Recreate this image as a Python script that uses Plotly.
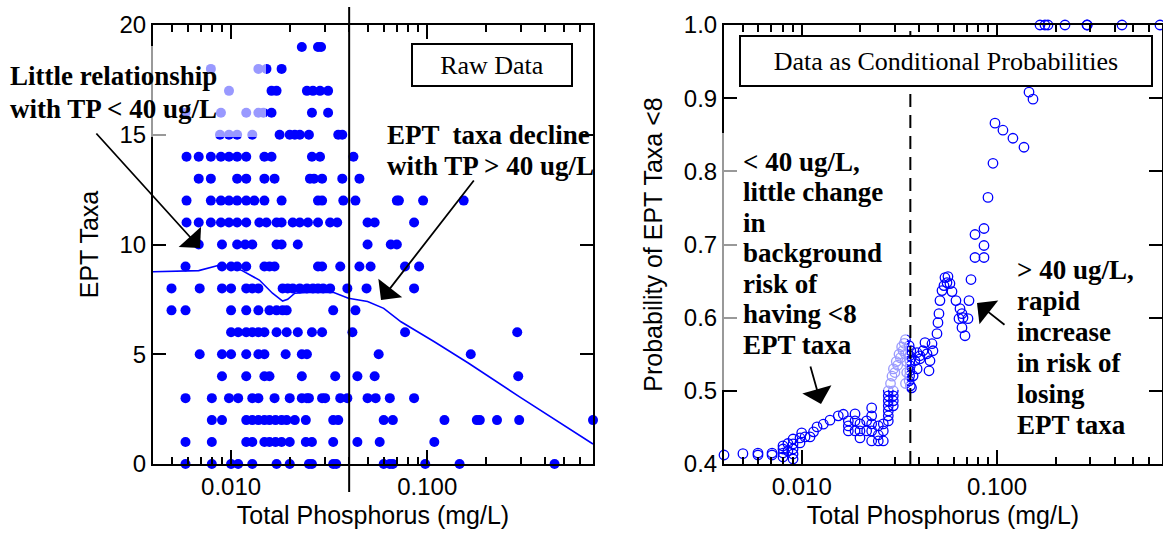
import math
import plotly.graph_objects as go

W, H = 1163, 535

# ---------------- Left panel: raw data (EPT taxa count vs TP, mg/L) ----------------
tp_ept19 = [0.02295, 0.02775, 0.02876]
tp_ept18 = [0.00789, 0.01378, 0.01515, 0.0181]
tp_ept17 = [0.00976, 0.01608, 0.01706, 0.02436, 0.02615, 0.02842, 0.03124]
tp_ept16 = [0.00586, 0.00888, 0.01195, 0.01378, 0.01462, 0.01608, 0.02584, 0.03124]
tp_ept15 = [0.00878, 0.00976, 0.01074, 0.01283, 0.01768, 0.01991, 0.02113, 0.02241,
            0.02494, 0.03519, 0.0369]
tp_ept14 = [0.00392, 0.00593, 0.00684, 0.00789, 0.00888, 0.00976, 0.01074, 0.01195,
            0.01479, 0.01608, 0.02584, 0.02842, 0.04206]
tp_ept13 = [0.00684, 0.00789, 0.01074, 0.01195, 0.01479, 0.01666, 0.02524, 0.02647,
            0.02911, 0.0369, 0.04513]
tp_ept12 = [0.00593, 0.00789, 0.00888, 0.00976, 0.01074, 0.01195, 0.01314, 0.01479,
            0.0181, 0.02775, 0.02911, 0.03734, 0.04306, 0.0700, 0.07171, 0.0953, 0.1534]
tp_ept11 = [0.00593, 0.00684, 0.00789, 0.00888, 0.00976, 0.01074, 0.01195, 0.01394,
            0.01515, 0.01706, 0.0181, 0.02063, 0.02241, 0.02465, 0.02775, 0.03199,
            0.03476, 0.04965, 0.05395, 0.0857]
tp_ept10 = [0.00684, 0.00899, 0.01074, 0.0118, 0.01283, 0.01706, 0.0181, 0.02189,
            0.04965, 0.06521, 0.0700]
tp_ept9 = [0.00392, 0.00586, 0.00899, 0.0100, 0.01074, 0.01195, 0.01479, 0.0157,
           0.01666, 0.02775, 0.02911, 0.03603, 0.04513, 0.05144, 0.07703, 0.0909]
tp_ept8 = [0.00497, 0.00692, 0.00899, 0.0100, 0.01195, 0.01283, 0.01378, 0.01832,
           0.01944, 0.02063, 0.02241, 0.02436, 0.02615, 0.02775, 0.02946, 0.03199,
           0.03916, 0.04906, 0.0857]
tp_ept7 = [0.00497, 0.00586, 0.0100, 0.01195, 0.01378, 0.0157, 0.01706, 0.01832,
           0.01921, 0.03316, 0.04306]
tp_ept6 = [0.0100, 0.01087, 0.01195, 0.01283, 0.01378, 0.01479, 0.01706, 0.01921,
           0.02189, 0.02584, 0.02911, 0.04156, 0.0771, 0.2876]
tp_ept5 = [0.00692, 0.00899, 0.0100, 0.01195, 0.01378, 0.01479, 0.01898, 0.02295,
           0.02436, 0.05656, 0.1667]
tp_ept4 = [0.00392, 0.00899, 0.01195, 0.01479, 0.0157, 0.02295, 0.03396, 0.04406,
           0.05395, 0.291]
tp_ept3 = [0.00586, 0.00798, 0.00976, 0.01087, 0.01283, 0.01378, 0.01666, 0.01991,
           0.02295, 0.02436, 0.02494, 0.02911, 0.03016, 0.03603, 0.03916, 0.04965,
           0.05459, 0.06446, 0.0857]
tp_ept2 = [0.00798, 0.00899, 0.01195, 0.01283, 0.01378, 0.01479, 0.0157, 0.01685,
           0.0181, 0.01921, 0.02113, 0.02405, 0.03316, 0.03519, 0.0600, 0.0668,
           0.1224, 0.179, 0.1854, 0.2269, 0.2944, 0.700]
tp_ept1 = [0.00586, 0.00798, 0.01195, 0.01283, 0.01479, 0.0157, 0.01685, 0.0181,
           0.01991, 0.02405, 0.02584, 0.03316, 0.04406, 0.05724, 0.1087]
tp_ept0 = [0.00586, 0.00798, 0.0100, 0.01087, 0.01283, 0.01706, 0.01991, 0.02494,
           0.02584, 0.03316, 0.03436, 0.0600, 0.06446, 0.0668, 0.0977, 0.1462, 0.4458]

ept_rows = [tp_ept0, tp_ept1, tp_ept2, tp_ept3, tp_ept4, tp_ept5, tp_ept6, tp_ept7,
            tp_ept8, tp_ept9, tp_ept10, tp_ept11, tp_ept12, tp_ept13, tp_ept14,
            tp_ept15, tp_ept16, tp_ept17, tp_ept18, tp_ept19]

# smoothed trend line
smooth_tp = [0.00392, 0.00684, 0.00867, 0.0100, 0.01139, 0.01394, 0.01626, 0.01832,
             0.01944, 0.02113, 0.02436, 0.03316, 0.03963, 0.04965, 0.0600, 0.0735,
             0.1087, 0.1626, 0.2944, 0.700]
smooth_ept = [8.76, 8.81, 9.05, 9.0, 8.81, 8.38, 7.78, 7.42, 7.50, 7.78, 7.82, 7.82,
              7.55, 7.40, 7.09, 6.48, 5.57, 4.59, 3.07, 0.91]

# ---------------- Right panel: conditional probabilities ----------------
cp_tp = [0.00400, 0.00500, 0.00597, 0.00597, 0.00705, 0.00705,
         0.00802, 0.00802, 0.00802, 0.00802, 0.0085, 0.0085,
         0.00903, 0.00903, 0.00903, 0.00903, 0.00903,
         0.0098, 0.0098, 0.0100, 0.0104, 0.01103, 0.0115, 0.01198,
         0.0129, 0.01396, 0.01539, 0.01633,
         0.01733, 0.01733, 0.01733, 0.01875, 0.01875, 0.01875,
         0.01988, 0.01988, 0.01988, 0.02151, 0.02151,
         0.02282, 0.02282, 0.02282, 0.02282, 0.02282,
         0.02467, 0.02467, 0.02467, 0.02617, 0.02617, 0.02617,
         0.02776, 0.02776, 0.02776, 0.02776, 0.02776, 0.02776, 0.02776,
         0.02944, 0.02944, 0.02944, 0.02944,
         0.0285, 0.0290, 0.0295, 0.0300, 0.0305, 0.0310, 0.0315, 0.0320,
         0.0325, 0.0330, 0.0335, 0.0340, 0.0340, 0.0345, 0.0345, 0.0340,
         0.0355, 0.0357, 0.0358, 0.0360, 0.0358, 0.0357, 0.0362, 0.0355,
         0.0360, 0.0365, 0.0372, 0.0380, 0.0390, 0.0403,
         0.03894, 0.04034, 0.04180, 0.04279, 0.04382, 0.04539, 0.04648,
         0.04702, 0.04486, 0.04929, 0.04987, 0.05046, 0.05105, 0.05229,
         0.05353, 0.05416, 0.05610, 0.05546, 0.05744, 0.05884, 0.06166,
         0.06465, 0.06619, 0.06390, 0.06699, 0.06619, 0.07104, 0.06859,
         0.07190, 0.07361, 0.07718, 0.07718, 0.08580, 0.08580, 0.08580,
         0.08995, 0.09540, 0.09768, 0.1073, 0.1207, 0.1375, 0.1459, 0.1529,
         0.1661, 0.1761, 0.1824, 0.2230, 0.2890, 0.2900, 0.4367, 0.6834]
cp_prob = [0.4123, 0.4141, 0.4123, 0.4150, 0.4123, 0.4150,
           0.4096, 0.4150, 0.4205, 0.4247, 0.418, 0.428,
           0.4068, 0.4137, 0.4205, 0.4274, 0.4342,
           0.4288, 0.4356, 0.4425, 0.4370, 0.4370, 0.4440, 0.4507,
           0.4544, 0.4599, 0.4658, 0.4680,
           0.4589, 0.4521, 0.4452, 0.4685, 0.4589, 0.4452,
           0.4548, 0.4452, 0.4356, 0.4589, 0.4452,
           0.4767, 0.4658, 0.4548, 0.4452, 0.4315,
           0.4521, 0.4397, 0.4315, 0.4548, 0.4452, 0.4315,
           0.5000, 0.4932, 0.4863, 0.4795, 0.4726, 0.4658, 0.4589,
           0.5000, 0.4932, 0.4863, 0.4795,
           0.510, 0.520, 0.530, 0.525, 0.540, 0.535, 0.550, 0.545,
           0.560, 0.555, 0.565, 0.570, 0.550, 0.540, 0.525, 0.510,
           0.5137, 0.5205, 0.5274, 0.5342, 0.5411, 0.5479, 0.5548, 0.5616,
           0.5068, 0.5041, 0.5205, 0.5411, 0.5300, 0.5479,
           0.5521, 0.5438, 0.5548, 0.5658, 0.5507, 0.5411, 0.5644,
           0.5548, 0.5274, 0.5781, 0.5932, 0.6055, 0.6233, 0.6370,
           0.6438, 0.6548, 0.6562, 0.6479, 0.6466, 0.6356, 0.6233,
           0.6123, 0.6055, 0.5986, 0.6000, 0.5863, 0.5986, 0.5753,
           0.6233, 0.6521, 0.6822, 0.7137, 0.6822, 0.6986, 0.7219,
           0.7644, 0.8110, 0.8658, 0.8562, 0.8452, 0.8329, 0.9082, 0.8986,
           1.0, 1.0, 1.0, 1.0, 1.0, 1.0, 1.0, 1.0]

TP_THRESHOLD_RAW = 0.04
TP_THRESHOLD_CP = 0.036

tick_vals = [0.01, 0.1]
tick_text = ["0.010", "0.100"]
minor_vals = [0.004, 0.005, 0.006, 0.007, 0.008, 0.009,
              0.02, 0.03, 0.04, 0.05, 0.06, 0.07, 0.08, 0.09,
              0.2, 0.3, 0.4, 0.5, 0.6, 0.7]

BLUE = "#0000FF"
SANS = "Arial, Liberation Sans, sans-serif"
SERIF = "Times New Roman, Liberation Serif, serif"


def pxx(x):
    return x / W


def pxy(y):
    return 1 - y / H


raw_x, raw_y = [], []
for count, row in enumerate(ept_rows):
    raw_x += row
    raw_y += [count] * len(row)

fig = go.Figure()
fig.add_trace(go.Scatter(x=raw_x, y=raw_y, mode="markers", xaxis="x", yaxis="y",
                         marker=dict(symbol="circle", size=10, color=BLUE),
                         cliponaxis=False, showlegend=False))
fig.add_trace(go.Scatter(x=smooth_tp, y=smooth_ept, mode="lines", xaxis="x", yaxis="y",
                         line=dict(color=BLUE, width=1.6), showlegend=False))
fig.add_trace(go.Scatter(x=cp_tp, y=cp_prob, mode="markers", xaxis="x2", yaxis="y2",
                         marker=dict(symbol="circle-open", size=9.5, color=BLUE,
                                     line=dict(width=1.3, color=BLUE)),
                         cliponaxis=False, showlegend=False))

ydom = [pxy(464), pxy(25)]
common_x = dict(type="log", range=[math.log10(0.004), math.log10(0.7)],
                tickvals=tick_vals, ticktext=tick_text, ticks="inside", ticklen=14,
                tickwidth=2, tickcolor="black", automargin=False,
                minor=dict(tickvals=minor_vals, ticks="inside", ticklen=7,
                           tickwidth=1.5, tickcolor="black"),
                showline=True, linewidth=2, linecolor="black", mirror="allticks",
                showgrid=False, zeroline=False,
                tickfont=dict(family=SANS, size=24, color="black"))
common_y = dict(ticks="inside", ticklen=13, tickwidth=2, tickcolor="black",
                showline=True, linewidth=2, linecolor="black", mirror="allticks",
                showgrid=False, zeroline=False, automargin=False,
                tickfont=dict(family=SANS, size=24, color="black"))

fig.update_layout(
    width=W, height=H, margin=dict(l=0, r=0, t=0, b=0, autoexpand=False),
    paper_bgcolor="white", plot_bgcolor="white", showlegend=False,
    xaxis=dict(common_x, domain=[pxx(153), pxx(593)], anchor="y",
               title=dict(text="Total Phosphorus (mg/L)", standoff=8,
                          font=dict(family=SANS, size=25, color="black"))),
    yaxis=dict(common_y, domain=ydom, anchor="x", range=[0, 20], tickvals=[0, 5, 10, 15, 20],
               title=dict(text="EPT Taxa", standoff=14,
                          font=dict(family=SANS, size=25, color="black"))),
    xaxis2=dict(common_x, domain=[pxx(724), pxx(1162)], anchor="y2",
                title=dict(text="Total Phosphorus (mg/L)", standoff=8,
                           font=dict(family=SANS, size=25, color="black"))),
    yaxis2=dict(common_y, domain=ydom, anchor="x2", range=[0.4, 1.0],
                tickvals=[0.4, 0.5, 0.6, 0.7, 0.8, 0.9, 1.0], tickformat=".1f",
                title=dict(text="Probability of EPT Taxa <8", standoff=14,
                           font=dict(family=SANS, size=25, color="black"))),
)

shapes = [
    dict(type="line", xref="x", yref="paper",
         x0=TP_THRESHOLD_RAW, x1=TP_THRESHOLD_RAW,
         y0=pxy(492), y1=pxy(7), line=dict(color="black", width=2)),
    dict(type="line", xref="x2", yref="y2",
         x0=TP_THRESHOLD_CP, x1=TP_THRESHOLD_CP,
         y0=0.4, y1=1.0, line=dict(color="black", width=2, dash="13px,8px")),
    # translucent text-box backgrounds (lighten what lies beneath)
    dict(type="rect", xref="paper", yref="paper", x0=pxx(148), x1=pxx(266),
         y0=pxy(137), y1=pxy(46), fillcolor="rgba(255,255,255,0.6)",
         line=dict(width=0), layer="above"),
    dict(type="rect", xref="paper", yref="paper", x0=pxx(718), x1=pxx(907),
         y0=pxy(390), y1=pxy(133), fillcolor="rgba(255,255,255,0.6)",
         line=dict(width=0), layer="above"),
]
fig.update_layout(shapes=shapes)

annotations = []
bold_font = dict(family=SERIF, size=27, color="black")


def add_lines(lines, x_left, baselines):
    for text, base in zip(lines, baselines):
        annotations.append(dict(text="<b>" + text + "</b>", xref="paper", yref="paper",
                                x=pxx(x_left), y=pxy(base - 8.5), xanchor="left",
                                yanchor="middle", showarrow=False, font=bold_font))


add_lines(["Little relationship", "with TP &lt; 40 ug/L"], 8, [85, 117])
add_lines(["EPT  taxa decline", "with TP &gt; 40 ug/L"], 385, [143, 175])
add_lines(["&lt; 40 ug/L,", "little change", "in", "background", "risk of",
           "having &lt;8", "EPT taxa"], 741, [170, 200.5, 231, 261.5, 292, 322.5, 353])
add_lines(["&gt; 40 ug/L,", "rapid", "increase", "in risk of", "losing", "EPT taxa"],
          1015, [278, 309, 340, 371, 402, 433])


def add_arrow(tip, tail):
    annotations.append(dict(text="", xref="paper", yref="paper", x=pxx(tip[0]),
                            y=pxy(tip[1]), ax=tail[0] - tip[0], ay=tail[1] - tip[1],
                            axref="pixel", ayref="pixel", showarrow=True,
                            arrowhead=1, arrowsize=2.8, arrowwidth=1.8,
                            arrowcolor="black"))


add_arrow((200, 248), (95, 132))
add_arrow((381, 300), (475, 179))
add_arrow((821, 404), (810, 365))
add_arrow((977, 303), (1006, 326))

annotations.append(dict(text="Raw Data", xref="paper", yref="paper", x=pxx(492),
                        y=pxy(65), xanchor="center", yanchor="middle", showarrow=False,
                        width=158, height=40, borderpad=0, borderwidth=2,
                        bordercolor="black", bgcolor="white",
                        font=dict(family=SERIF, size=26, color="black")))
annotations.append(dict(text="Data as Conditional Probabilities", xref="paper",
                        yref="paper", x=pxx(946), y=pxy(61), xanchor="center",
                        yanchor="middle", showarrow=False, width=410, height=48,
                        borderpad=0, borderwidth=2, bordercolor="black",
                        bgcolor="white",
                        font=dict(family=SERIF, size=26, color="black")))
fig.update_layout(annotations=annotations)

fig.write_html("out.html", config={"displayModeBar": False},
               post_script="document.body.style.margin='0px';")
